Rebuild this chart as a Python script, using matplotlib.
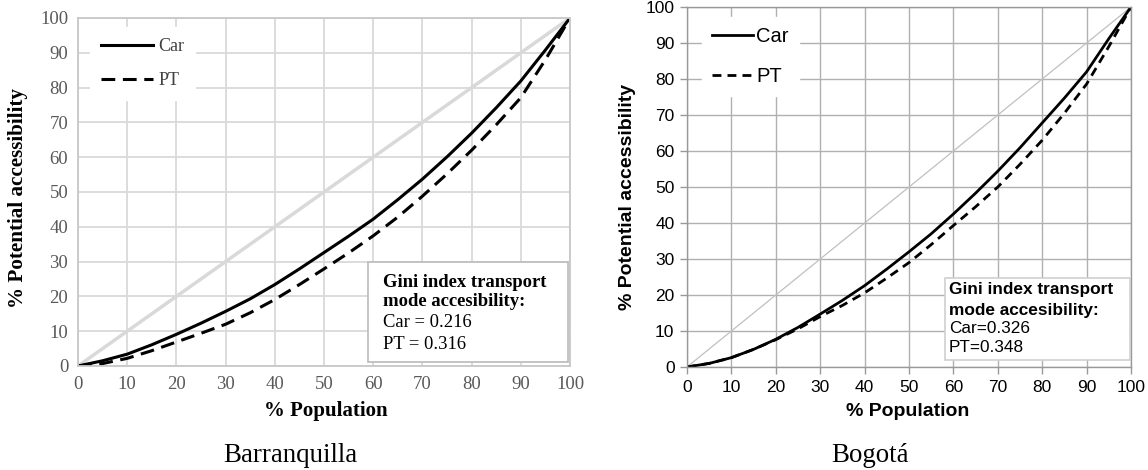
import matplotlib.pyplot as plt
from matplotlib.patches import Rectangle

# % population (x) and % potential accessibility (y)
pop = [0, 5, 10, 15, 20, 25, 30, 35, 40, 45, 50, 55, 60, 65, 70, 75, 80, 85, 90, 95, 100]

baq_car = [0, 1.5, 3.4, 6.1, 9.1, 12.3, 15.7, 19.3, 23.4, 27.9, 32.6, 37.3, 42.2,
           47.8, 53.7, 60.1, 66.9, 74.2, 81.9, 90.8, 100]
baq_pt = [0, 0.7, 2.2, 4.4, 6.9, 9.4, 12.0, 15.3, 19.1, 23.4, 27.9, 32.5, 37.4,
          42.8, 48.8, 55.2, 62.0, 69.3, 77.1, 88.0, 100]

bog_car = [0, 1.0, 2.6, 4.9, 7.7, 11.0, 14.7, 18.5, 22.6, 27.2, 32.0, 37.0, 42.5,
           48.3, 54.4, 60.9, 67.8, 74.7, 82.0, 91.2, 100]
bog_pt = [0, 1.0, 2.6, 4.9, 7.6, 10.6, 14.0, 17.1, 20.6, 24.7, 29.0, 34.0, 39.3,
          44.5, 50.0, 56.3, 63.0, 70.5, 78.6, 89.0, 100]

gini_baq = ["Car = 0.216", "PT = 0.316"]
gini_bog = ["Car=0.326", "PT=0.348"]
ticks = list(range(0, 101, 10))

fig = plt.figure(figsize=(11.48, 4.70), dpi=100)

# ---------- Barranquilla (Excel style, serif) ----------
serif = "Liberation Serif"
ax1 = fig.add_axes([78/1148, 1-366/470, 492/1148, 348/470])
ax1.set_xlim(0, 100)
ax1.set_ylim(0, 100)
ax1.set_xticks(ticks)
ax1.set_yticks(ticks)
ax1.grid(True, color="#d9d9d9", lw=1.3)
ax1.set_axisbelow(True)
for s in ax1.spines.values():
    s.set_color("#c8c8c8")
    s.set_linewidth(1.3)
ax1.tick_params(length=0, pad=7, labelcolor="#595959", labelsize=13.5)
for lab in ax1.get_xticklabels() + ax1.get_yticklabels():
    lab.set_fontfamily(serif)
ax1.plot([0, 100], [0, 100], color="#d9d9d9", lw=2.5)
ax1.plot(pop, baq_car, color="black", lw=2.2, label="Car")
ax1.plot(pop, baq_pt, color="black", lw=2.2, ls=(0, (4.5, 2.5)), label="PT")

leg1 = ax1.legend(loc="upper left", bbox_to_anchor=(0.024, 0.974), frameon=True,
                  fancybox=False, edgecolor="white", framealpha=1, borderaxespad=0,
                  handlelength=2.9, handletextpad=0.3, labelspacing=0.94,
                  borderpad=0.6, prop={"family": serif, "size": 13})
for t in leg1.get_texts():
    t.set_color("#404040")

ax1.add_patch(Rectangle((0.589, 0.011), 0.407, 0.288, transform=ax1.transAxes,
                        facecolor="white", edgecolor="#bfbfbf", lw=1.3, zorder=5))
ax1.text(0.62, 0.241, "Gini index transport", transform=ax1.transAxes, va="center",
         fontfamily=serif, fontweight="bold", fontsize=13.4, zorder=6)
ax1.text(0.62, 0.184, "mode accesibility:", transform=ax1.transAxes, va="center",
         fontfamily=serif, fontweight="bold", fontsize=13.4, zorder=6)
ax1.text(0.62, 0.124, gini_baq[0], transform=ax1.transAxes, va="center",
         fontfamily=serif, fontsize=13.4, zorder=6)
ax1.text(0.62, 0.063, gini_baq[1], transform=ax1.transAxes, va="center",
         fontfamily=serif, fontsize=13.4, zorder=6)

fig.text(18/1148, 1-198/470, "% Potential accessibility", rotation=90, ha="center",
         va="center", fontfamily=serif, fontweight="bold", fontsize=15.2)
fig.text(326/1148, 1-411/470, "% Population", ha="center", va="center",
         fontfamily=serif, fontweight="bold", fontsize=15)
fig.text(290/1148, 1-455/470, "Barranquilla", ha="center", va="center",
         fontfamily=serif, fontsize=19.4)

# ---------- Bogotá (sans) ----------
sans = "Liberation Sans"
ax2 = fig.add_axes([687/1148, 1-367/470, 444/1148, 360/470])
ax2.set_xlim(0, 100)
ax2.set_ylim(0, 100)
ax2.set_xticks(ticks)
ax2.set_yticks(ticks)
ax2.grid(True, color="#b0b0b0", lw=1.0)
ax2.set_axisbelow(True)
for s in ax2.spines.values():
    s.set_color("#999999")
    s.set_linewidth(1.0)
ax2.tick_params(length=5, width=1, color="#999999", pad=4, labelsize=12.5,
                labelcolor="black")
for lab in ax2.get_xticklabels() + ax2.get_yticklabels():
    lab.set_fontfamily(sans)
ax2.plot([0, 100], [0, 100], color="#c0c0c0", lw=0.9)
ax2.plot(pop, bog_car, color="black", lw=2.0, label="Car")
ax2.plot(pop, bog_pt, color="black", lw=2.0, ls=(0, (3.2, 2.2)), label="PT")

leg2 = ax2.legend(loc="upper left", bbox_to_anchor=(0.034, 0.972), frameon=True,
                  fancybox=False, edgecolor="white", framealpha=1, borderaxespad=0,
                  handlelength=2.05, handletextpad=0.15, labelspacing=1.05,
                  borderpad=0.5, prop={"family": sans, "size": 14.5})

ax2.add_patch(Rectangle((0.581, 0.019), 0.417, 0.228, transform=ax2.transAxes,
                        facecolor="white", edgecolor="#d0d0d0", lw=1.2, zorder=5))
ax2.text(0.59, 0.214, "Gini index transport", transform=ax2.transAxes, va="center",
         fontfamily=sans, fontweight="bold", fontsize=12.4, zorder=6)
ax2.text(0.59, 0.158, "mode accesibility:", transform=ax2.transAxes, va="center",
         fontfamily=sans, fontweight="bold", fontsize=12.4, zorder=6)
ax2.text(0.59, 0.106, gini_bog[0], transform=ax2.transAxes, va="center",
         fontfamily=sans, fontsize=12.4, zorder=6)
ax2.text(0.59, 0.053, gini_bog[1], transform=ax2.transAxes, va="center",
         fontfamily=sans, fontsize=12.4, zorder=6)

fig.text(628/1148, 1-197/470, "% Potential accessibility", rotation=90, ha="center",
         va="center", fontfamily=sans, fontweight="bold", fontsize=14)
fig.text(908/1148, 1-411/470, "% Population", ha="center", va="center",
         fontfamily=sans, fontweight="bold", fontsize=14)
fig.text(870/1148, 1-455/470, "Bogotá", ha="center", va="center",
         fontfamily=serif, fontsize=19.4)

fig.savefig("out.png", dpi=100)
